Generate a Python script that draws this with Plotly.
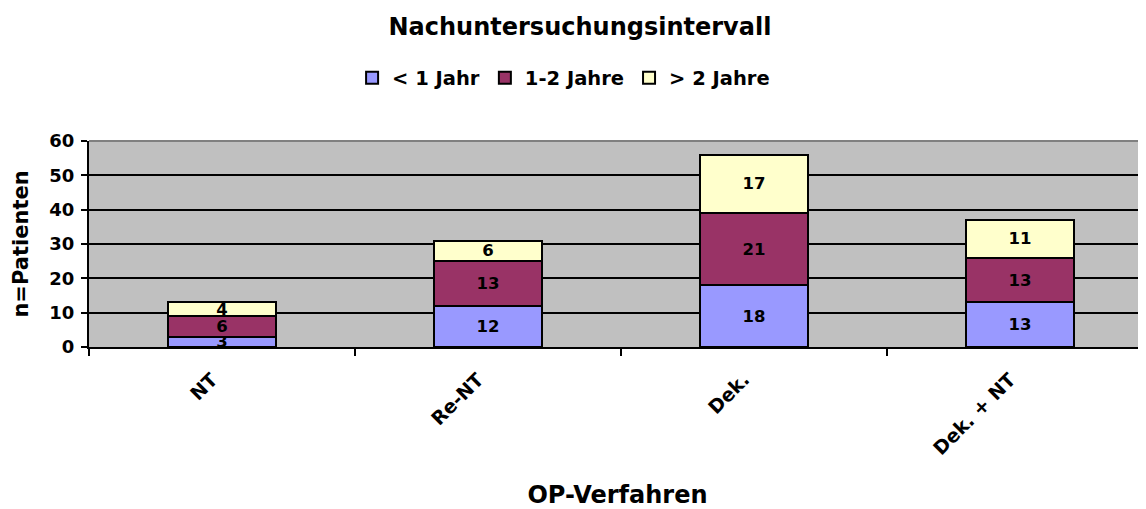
import plotly.graph_objects as go

categories = ["NT", "Re-NT", "Dek.", "Dek. + NT"]
series_names = ["< 1 Jahr", "1-2 Jahre", "> 2 Jahre"]
lt1 = [3, 12, 18, 13]
y12 = [6, 13, 21, 13]
gt2 = [4, 6, 17, 11]
colors = ["#9999FF", "#993366", "#FFFFCC"]
y_ticks = [0, 10, 20, 30, 40, 50, 60]

FONT = "DejaVu Sans, Liberation Sans, Arial, sans-serif"

fig = go.Figure()
for name, vals, col in zip(series_names, [lt1, y12, gt2], colors):
    fig.add_trace(go.Bar(
        x=categories, y=vals, name=name,
        marker=dict(color=col, line=dict(color="black", width=2)),
        text=vals, textposition="inside", insidetextanchor="middle", textangle=0,
        textfont=dict(family=FONT, size=16.5, color="black", weight="bold"),
        width=0.406,
    ))

fig.update_layout(
    barmode="stack",
    width=1138, height=501,
    margin=dict(l=81, r=0, t=133, b=162, autoexpand=False),
    paper_bgcolor="white",
    plot_bgcolor="#C0C0C0",
    uniformtext=dict(minsize=16.5, mode="show"),
    title=dict(text="Nachuntersuchungsintervall", x=0.5026, xanchor="center",
               y=0.962, yanchor="middle",
               font=dict(family=FONT, size=24, color="black", weight="bold")),
    legend=dict(orientation="h", x=0.449, xanchor="center", y=1.306, yanchor="middle",
                font=dict(family=FONT, size=19.5, color="black", weight="bold"),
                itemwidth=30, traceorder="normal", tracegroupgap=0),
    xaxis=dict(
        range=[-0.5, 3.474], automargin=False,
        showline=True, linecolor="black", linewidth=2,
        ticks="outside", tickson="boundaries", ticklen=7, tickcolor="black", tickwidth=2,
        tickangle=-45, ticklabelshift=-10, ticklabelstandoff=12,
        tickfont=dict(family=FONT, size=19, color="black", weight="bold"),
        title=dict(text="OP-Verfahren", standoff=30,
                   font=dict(family=FONT, size=24, color="black", weight="bold")),
        showgrid=False,
    ),
    yaxis=dict(
        range=[0, 60], tickvals=y_ticks, automargin=False,
        showline=True, linecolor="black", linewidth=2,
        ticks="outside", ticklen=6, tickcolor="black", tickwidth=2, ticklabelstandoff=3,
        tickfont=dict(family=FONT, size=18, color="black", weight="bold"),
        showgrid=True, gridcolor="black", gridwidth=2,
        title=dict(text="n=Patienten", standoff=15,
                   font=dict(family=FONT, size=21, color="black", weight="bold")),
        zeroline=False,
    ),
    shapes=[dict(type="line", xref="paper", yref="paper", x0=0, x1=1, y0=1, y1=1,
                 line=dict(color="#808080", width=2))],
)

fig.write_html("out.html")
